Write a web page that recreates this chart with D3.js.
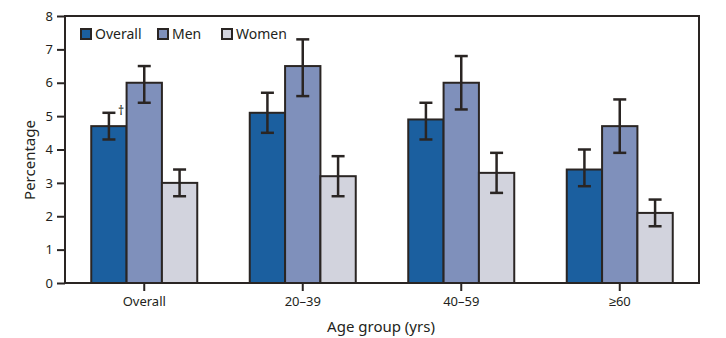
<!DOCTYPE html>
<meta charset="utf-8">
<style>
    body { margin: 0; background: white; }
    text { font-family: "Noto Sans", sans-serif; fill: #231f20; }
</style>
<body>
<svg id="chart" width="726" height="338"></svg>
<script src="https://d3js.org/d3.v7.min.js"></script>
<script>
    // data
    const groups = ["Overall", "20\u201339", "40\u201359", "\u226560"];
    const seriesNames = ["Overall", "Men", "Women"];
    const colors = ["#1b5f9f", "#7f90bb", "#d2d3dd"];
    const overallVals = [4.7, 5.1, 4.9, 3.4];
    const overallLow = [4.3, 4.5, 4.3, 2.9];
    const overallHigh = [5.1, 5.7, 5.4, 4.0];
    const menVals = [6.0, 6.5, 6.0, 4.7];
    const menLow = [5.4, 5.6, 5.2, 3.9];
    const menHigh = [6.5, 7.3, 6.8, 5.5];
    const womenVals = [3.0, 3.2, 3.3, 2.1];
    const womenLow = [2.6, 2.6, 2.7, 1.7];
    const womenHigh = [3.4, 3.8, 3.9, 2.5];
    const yTicks = [0, 1, 2, 3, 4, 5, 6, 7, 8];

    const vals = [overallVals, menVals, womenVals];
    const lows = [overallLow, menLow, womenLow];
    const highs = [overallHigh, menHigh, womenHigh];

    const rows = [];
    groups.forEach((g, i) => {
        seriesNames.forEach((s, j) => {
            rows.push({ group: g, series: s, si: j, v: vals[j][i], lo: lows[j][i], hi: highs[j][i] });
        });
    });

    const svg = d3.select("#chart");
    const mLeft = 65, mRight = 699, mTop = 16, mBottom = 283;
    const ink = "#2a2523";

    const x = d3.scaleBand().domain(groups).range([mLeft, mRight]);
    const xs = d3.scaleBand().domain(seriesNames).range([0, 106]);
    const y = d3.scaleLinear().domain([0, 8]).range([mBottom, mTop]);
    const groupOffset = (x.bandwidth() - 106) / 2;

    // bars
    svg.append("g").selectAll("rect")
        .data(rows)
        .enter()
        .append("rect")
        .attr("x", d => x(d.group) + groupOffset + xs(d.series))
        .attr("y", d => y(d.v))
        .attr("width", xs.bandwidth())
        .attr("height", d => y(0) - y(d.v))
        .attr("fill", d => colors[d.si])
        .attr("stroke", ink)
        .attr("stroke-width", 2);

    // error bars
    const eb = svg.append("g").attr("stroke", ink).attr("stroke-width", 2.5);
    rows.forEach(d => {
        const cx = x(d.group) + groupOffset + xs(d.series) + xs.bandwidth() / 2;
        eb.append("line").attr("x1", cx).attr("x2", cx).attr("y1", y(d.lo)).attr("y2", y(d.hi));
        eb.append("line").attr("x1", cx - 6.5).attr("x2", cx + 6.5).attr("y1", y(d.lo)).attr("y2", y(d.lo));
        eb.append("line").attr("x1", cx - 6.5).attr("x2", cx + 6.5).attr("y1", y(d.hi)).attr("y2", y(d.hi));
    });

    // dagger on first bar
    const d0 = rows[0];
    svg.append("text")
        .attr("x", x(d0.group) + groupOffset + xs(d0.series) + xs.bandwidth() / 2 + 9)
        .attr("y", y(d0.hi) + 2)
        .attr("font-size", 12)
        .text("\u2020");

    // frame
    svg.append("rect")
        .attr("x", mLeft).attr("y", mTop)
        .attr("width", mRight - mLeft).attr("height", mBottom - mTop)
        .attr("fill", "none").attr("stroke", ink).attr("stroke-width", 2);

    // y axis
    const yAxis = svg.append("g")
        .attr("transform", `translate(${mLeft},0)`)
        .call(d3.axisLeft(y).tickValues(yTicks).tickSize(8).tickPadding(4));
    yAxis.select(".domain").remove();
    yAxis.selectAll("line").attr("stroke", ink).attr("stroke-width", 2);
    yAxis.selectAll("text").attr("font-size", 13).attr("font-family", null).attr("fill", null);

    // x axis
    const xAxis = svg.append("g")
        .attr("transform", `translate(0,${mBottom})`)
        .call(d3.axisBottom(x).tickSize(8).tickPadding(6));
    xAxis.select(".domain").remove();
    xAxis.selectAll("line").attr("stroke", ink).attr("stroke-width", 2);
    xAxis.selectAll("text").attr("font-size", 13).attr("font-family", null).attr("fill", null);

    // axis titles
    svg.append("text")
        .attr("transform", "translate(35,160) rotate(-90)")
        .attr("text-anchor", "middle")
        .attr("font-size", 15)
        .text("Percentage");
    svg.append("text")
        .attr("x", 381).attr("y", 332)
        .attr("text-anchor", "middle")
        .attr("font-size", 15)
        .text("Age group (yrs)");

    // legend
    const legendX = [81, 158, 222];
    const lg = svg.append("g");
    seriesNames.forEach((s, i) => {
        lg.append("rect")
            .attr("x", legendX[i]).attr("y", 29)
            .attr("width", 10).attr("height", 10)
            .attr("fill", colors[i]).attr("stroke", ink).attr("stroke-width", 2);
        lg.append("text")
            .attr("x", legendX[i] + 14).attr("y", 39)
            .attr("font-size", 14)
            .text(s);
    });
</script>
</body>
